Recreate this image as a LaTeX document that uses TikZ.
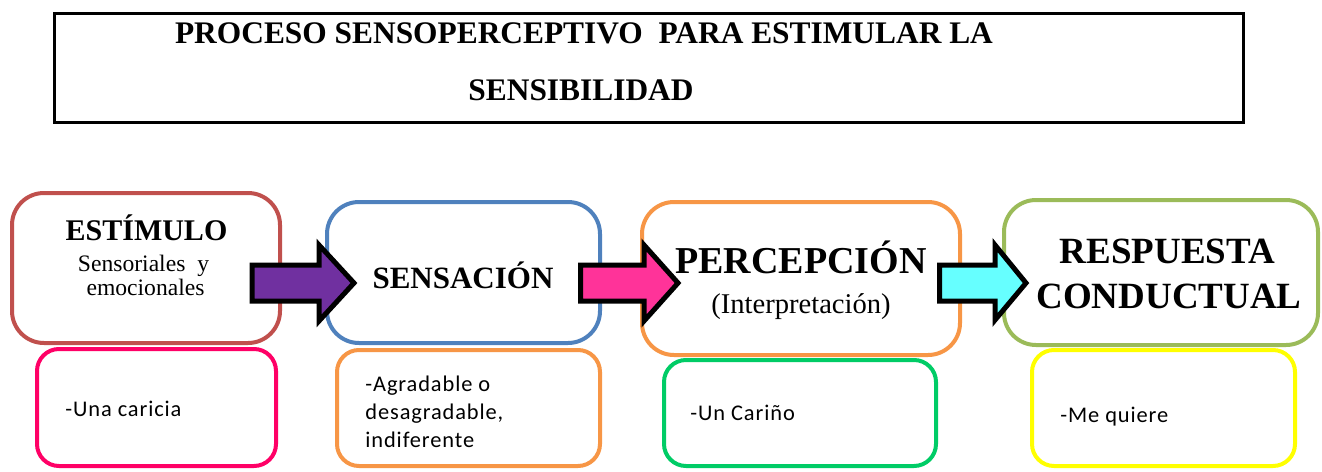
\documentclass[tikz,border=0pt]{standalone}
\usepackage{fontspec}
\setmainfont{Liberation Serif}
\newfontfamily\calib{Carlito}[LetterSpace=4]
\definecolor{cStim}{HTML}{C0504D}
\definecolor{cSens}{HTML}{4F81BD}
\definecolor{cPerc}{HTML}{F79646}
\definecolor{cResp}{HTML}{9BBB59}
\definecolor{cPink}{HTML}{FF0066}
\definecolor{cGreen}{HTML}{00CC66}
\definecolor{cYellow}{HTML}{FFFF00}
\definecolor{aPurple}{HTML}{7030A0}
\definecolor{aPink}{HTML}{FF3399}
\definecolor{aCyan}{HTML}{66FFFF}
\begin{document}
\begin{tikzpicture}[x=0.5pt,y=-0.5pt,
  topbox/.style={draw, line width=2pt, rounded corners=16pt, fill=white, inner sep=0pt},
  lowbox/.style={draw, line width=2pt, rounded corners=11pt, fill=white, inner sep=0pt},
  blk/.style={draw=black, line width=2.5pt, line join=miter, miter limit=10},
  ttl/.style={font=\fontsize{15.7}{18}\selectfont\bfseries, anchor=base, inner sep=0pt},
  hd/.style={anchor=base, inner sep=0pt},
  low/.style={font=\calib\fontsize{11.2}{13}\selectfont, anchor=base west, inner sep=0pt}]
\useasboundingbox (0,0) rectangle (1322,471);
% title
\node[draw, line width=1.5pt, minimum width=594.5pt, minimum height=54.5pt, inner sep=0pt] (title) at (649,68) {};
\node[ttl] (t1) at (584,43) {PROCESO SENSOPERCEPTIVO\ \ PARA ESTIMULAR LA};
\node[ttl] (t2) at (581,100) {SENSIBILIDAD};
% top boxes
\node[topbox, draw=cStim, minimum width=134pt, minimum height=75pt] (estimulo) at (146,268) {};
\node[topbox, draw=cSens, minimum width=136.5pt, minimum height=70.5pt] (sensacion) at (463.5,272.5) {};
\node[topbox, draw=cPerc, minimum width=159pt, minimum height=76.5pt] (percepcion) at (801,278.5) {};
\node[topbox, draw=cResp, minimum width=157pt, minimum height=72.5pt] (respuesta) at (1161,272.5) {};
% bottom boxes
\node[lowbox, draw=cPink, minimum width=119.5pt, minimum height=58.5pt] (ej1) at (156.5,407.5) {};
\node[lowbox, draw=cPerc, minimum width=131.5pt, minimum height=58pt] (ej2) at (468.5,408) {};
\node[lowbox, draw=cGreen, minimum width=136pt, minimum height=53pt] (ej3) at (800,413) {};
\node[lowbox, draw=cYellow, minimum width=131.5pt, minimum height=58pt] (ej4) at (1163.5,408) {};
% block arrows
\draw[blk, fill=aPurple] (252,265) -- (319,265) -- (319,245) -- (354,283) -- (319,321) -- (319,301) -- (252,301) -- cycle;
\draw[blk, fill=aPink] (580.5,265) -- (644,265) -- (644,245) -- (678,283) -- (644,321) -- (644,301) -- (580.5,301) -- cycle;
\draw[blk, fill=aCyan] (939.5,265) -- (995,265) -- (995,245) -- (1026,283) -- (995,320) -- (995,301) -- (939.5,301) -- cycle;
% headings
\node[hd, font=\fontsize{15}{18}\selectfont\bfseries] (h1) at (146.5,240) {ESTÍMULO};
\node[hd, font=\fontsize{11.8}{14}\selectfont] (h1a) at (143.5,271) {Sensoriales\ \ y};
\node[hd, font=\fontsize{11.8}{14}\selectfont] (h1b) at (145.5,295) {emocionales};
\node[hd, font=\fontsize{15.5}{18}\selectfont\bfseries] (h2) at (463,288) {SENSACIÓN};
\node[hd, font=\fontsize{19}{22}\selectfont\bfseries] (h3) at (801,273) {PERCEPCIÓN};
\node[hd, font=\fontsize{14.3}{16}\selectfont] (h3a) at (801,313) {(Interpretación)};
\node[hd, font=\fontsize{18.5}{22}\selectfont\bfseries] (h4) at (1167.5,263) {RESPUESTA};
\node[hd, font=\fontsize{18.5}{22}\selectfont\bfseries] (h4a) at (1169,308) {CONDUCTUAL};
% examples
\node[low] (e1) at (65,416) {-Una caricia};
\node[low] (e2a) at (365,391) {-Agradable o};
\node[low] (e2b) at (365,419) {desagradable,};
\node[low] (e2c) at (365,447) {indiferente};
\node[low] (e3) at (690,420) {-Un Cariño};
\node[low] (e4) at (1060,422) {-Me quiere};
\end{tikzpicture}
\end{document}
